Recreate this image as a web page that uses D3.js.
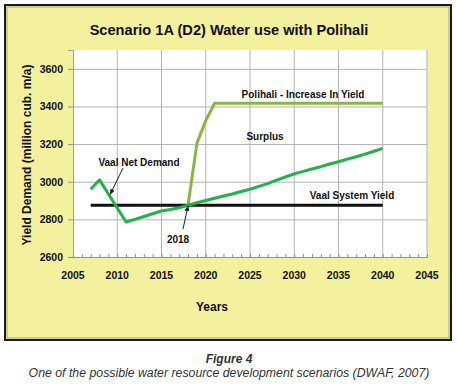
<!DOCTYPE html>
<html lang="en">
<head>
    <meta charset="UTF-8">
    <title>Scenario 1A (D2) Water use with Polihali</title>
    <script src="https://d3js.org/d3.v7.min.js"></script>
    <style>
        body {
            margin: 0;
            background: #fff;
            font-family: 'Liberation Sans', Arial, sans-serif;
        }
        .tick-label {
            font-size: 10.5px;
            font-weight: bold;
            fill: #111;
        }
        .note {
            font-size: 10px;
            font-weight: bold;
            fill: #111;
        }
        .grid line {
            stroke: #b4b4b4;
            stroke-width: 1;
        }
    </style>
</head>
<body>
    <svg width="457" height="385"></svg>
    <script>
        // Vaal net demand, million cub. m/a
        const demandYears = [2007, 2008, 2009, 2010, 2011, 2012, 2013, 2014, 2015, 2016, 2017, 2018,
            2019, 2020, 2021, 2022, 2023, 2024, 2025, 2026, 2027, 2028, 2029, 2030,
            2031, 2032, 2033, 2034, 2035, 2036, 2037, 2038, 2039, 2040];
        const demandValues = [2960, 3010, 2935, 2860, 2786, 2800, 2815, 2830, 2845, 2852, 2862, 2875,
            2888, 2900, 2912, 2924, 2935, 2948, 2960, 2975, 2990, 3008, 3025, 3042,
            3055, 3068, 3080, 3094, 3106, 3120, 3133, 3147, 3162, 3177];

        // Polihali - increase in yield
        const polihaliYears = [2018, 2019, 2020, 2021, 2025, 2030, 2035, 2040];
        const polihaliValues = [2875, 3204, 3325, 3417, 3417, 3417, 3417, 3417];

        // Vaal system yield
        const yieldYears = [2007, 2040];
        const yieldValues = [2875, 2875];

        const xTicks = [2005, 2010, 2015, 2020, 2025, 2030, 2035, 2040, 2045];
        const yTicks = [2600, 2800, 3000, 3200, 3400, 3600];

        const svg = d3.select("svg");
        const plot = {left: 73, top: 50, right: 427, bottom: 257};

        // outer frame
        svg.append("rect")
            .attr("x", 5).attr("y", 5)
            .attr("width", 446).attr("height", 335)
            .attr("fill", "#f3f09e")
            .attr("stroke", "#1a1a1a")
            .attr("stroke-width", 2);
        svg.append("rect")
            .attr("x", 7).attr("y", 7)
            .attr("width", 442).attr("height", 331)
            .attr("fill", "none")
            .attr("stroke", "#a8a68a")
            .attr("stroke-width", 1);

        const x = d3.scaleLinear().domain([2005, 2045]).range([plot.left, plot.right]);
        const y = d3.scaleLinear().domain([2600, 3700]).range([plot.bottom, plot.top]);

        svg.append("rect")
            .attr("x", plot.left).attr("y", plot.top)
            .attr("width", plot.right - plot.left).attr("height", plot.bottom - plot.top)
            .attr("fill", "#fff");

        // grid
        svg.append("g").attr("class", "grid")
            .selectAll("line").data(yTicks.slice(1)).join("line")
            .attr("x1", plot.left).attr("x2", plot.right)
            .attr("y1", d => y(d) + 0.5).attr("y2", d => y(d) + 0.5);
        svg.append("g").attr("class", "grid")
            .selectAll("line").data(xTicks.slice(1)).join("line")
            .attr("x1", d => x(d)).attr("x2", d => x(d))
            .attr("y1", plot.top).attr("y2", plot.bottom);

        // y axis
        const yAxis = svg.append("g")
            .attr("transform", `translate(${plot.left},0)`)
            .call(d3.axisLeft(y).tickValues(yTicks).tickSize(5).tickFormat(d3.format("d")));
        yAxis.select(".domain").attr("stroke", "#a0a0a0");
        yAxis.selectAll(".tick line").attr("stroke", "#909090");
        yAxis.selectAll(".tick text").attr("class", "tick-label").attr("x", -10);

        // x axis with minor ticks pointing up
        const xAxis = svg.append("g")
            .attr("transform", `translate(0,${plot.bottom})`)
            .call(d3.axisBottom(x).tickValues(d3.range(2005, 2046)).tickSize(-3).tickFormat(""));
        xAxis.select(".domain").attr("stroke", "#909090");
        xAxis.selectAll(".tick line").attr("stroke", "#909090");
        svg.append("g")
            .selectAll("text").data(xTicks).join("text")
            .attr("class", "tick-label")
            .attr("x", d => x(d))
            .attr("y", 279)
            .attr("text-anchor", "middle")
            .text(d => d);

        const line = d3.line()
            .x(d => x(d[0]))
            .y(d => y(d[1]));

        svg.append("path")
            .datum(d3.zip(yieldYears, yieldValues))
            .attr("d", line)
            .attr("fill", "none")
            .attr("stroke", "#111")
            .attr("stroke-width", 3);

        svg.append("path")
            .datum(d3.zip(polihaliYears, polihaliValues))
            .attr("d", line)
            .attr("fill", "none")
            .attr("stroke", "#8db443")
            .attr("stroke-width", 3)
            .attr("stroke-linejoin", "round");

        svg.append("path")
            .datum(d3.zip(demandYears, demandValues))
            .attr("d", line)
            .attr("fill", "none")
            .attr("stroke", "#22b14c")
            .attr("stroke-width", 3)
            .attr("stroke-linejoin", "round");

        // arrow heads
        svg.append("defs").append("marker")
            .attr("id", "arrow")
            .attr("viewBox", "0 0 10 10")
            .attr("refX", 9).attr("refY", 5)
            .attr("markerWidth", 6).attr("markerHeight", 6)
            .attr("orient", "auto")
            .append("path")
            .attr("d", "M0,1 L10,5 L0,9 Z")
            .attr("fill", "#222");

        svg.append("line")
            .attr("x1", 123).attr("y1", 168)
            .attr("x2", x(2009.2)).attr("y2", y(2932))
            .attr("stroke", "#222").attr("stroke-width", 1)
            .attr("marker-end", "url(#arrow)");
        svg.append("line")
            .attr("x1", 183).attr("y1", 229)
            .attr("x2", x(2018)).attr("y2", y(2872))
            .attr("stroke", "#222").attr("stroke-width", 1)
            .attr("marker-end", "url(#arrow)");

        // labels
        const notes = [
            {t: "Vaal Net Demand", x: 139, y: 166},
            {t: "2018", x: 178, y: 243},
            {t: "Polihali - Increase In Yield", x: 303, y: 98},
            {t: "Surplus", x: 265, y: 140},
            {t: "Vaal System Yield", x: 352, y: 199}
        ];
        svg.append("g").selectAll("text").data(notes).join("text")
            .attr("class", "note")
            .attr("x", d => d.x).attr("y", d => d.y)
            .attr("text-anchor", "middle")
            .text(d => d.t);

        svg.append("text")
            .attr("x", 229).attr("y", 35)
            .attr("text-anchor", "middle")
            .attr("font-size", 14.6)
            .attr("font-weight", "bold")
            .attr("fill", "#111")
            .text("Scenario 1A (D2) Water use with Polihali");

        svg.append("text")
            .attr("transform", "translate(31,155) rotate(-90)")
            .attr("text-anchor", "middle")
            .attr("font-size", 12)
            .attr("font-weight", "bold")
            .attr("fill", "#111")
            .text("Yield Demand (million cub. m/a)");

        svg.append("text")
            .attr("x", 212).attr("y", 311)
            .attr("text-anchor", "middle")
            .attr("font-size", 12)
            .attr("font-weight", "bold")
            .attr("fill", "#111")
            .text("Years");

        // caption
        svg.append("text")
            .attr("x", 229).attr("y", 363)
            .attr("text-anchor", "middle")
            .attr("font-size", 12)
            .attr("font-style", "italic")
            .attr("font-weight", "bold")
            .attr("fill", "#333")
            .text("Figure 4");
        svg.append("text")
            .attr("x", 229).attr("y", 377)
            .attr("text-anchor", "middle")
            .attr("font-size", 12.3)
            .attr("font-style", "italic")
            .attr("fill", "#333")
            .text("One of the possible water resource development scenarios (DWAF, 2007)");
    </script>
</body>
</html>
